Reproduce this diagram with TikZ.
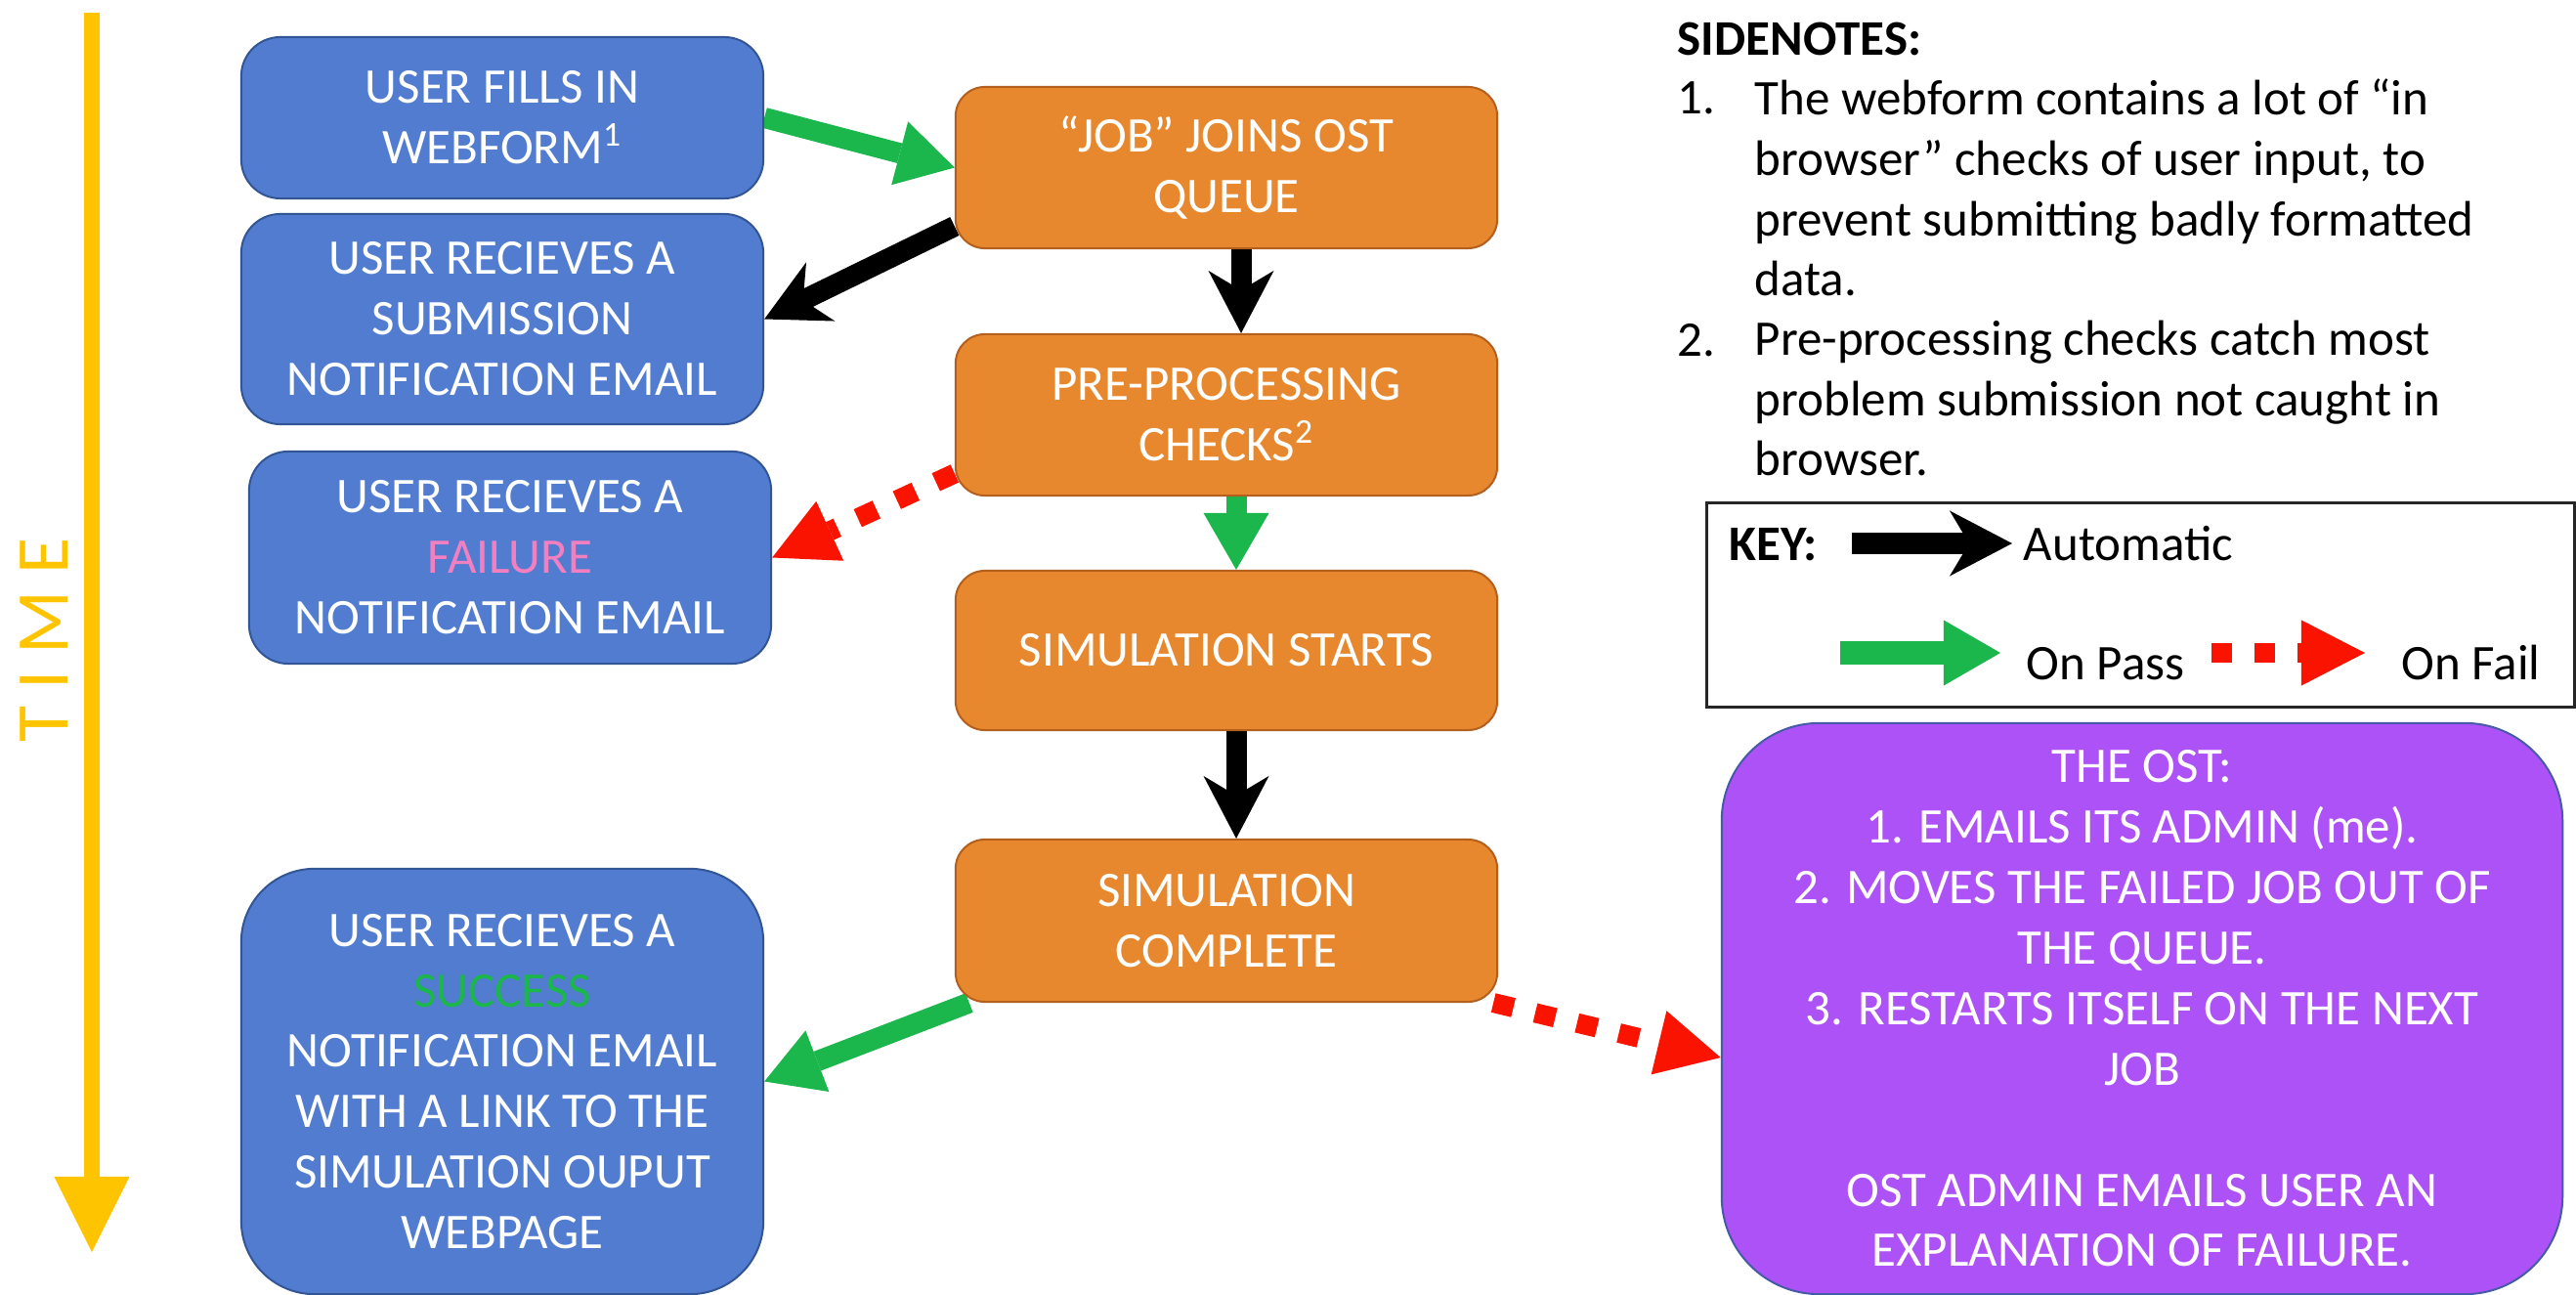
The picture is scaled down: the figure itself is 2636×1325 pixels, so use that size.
\documentclass[tikz,border=0pt]{standalone}
\usepackage{fontspec}
\setmainfont{Carlito}
\usetikzlibrary{arrows.meta,backgrounds}
\definecolor{boxblue}{RGB}{82,124,208}
\definecolor{boxblueline}{RGB}{50,85,150}
\definecolor{boxorange}{RGB}{232,136,46}
\definecolor{boxorangeline}{RGB}{180,95,30}
\definecolor{boxpurple}{RGB}{172,82,246}
\definecolor{boxpurpleline}{RGB}{70,90,170}
\definecolor{passgreen}{RGB}{27,182,76}
\definecolor{failred}{RGB}{250,20,0}
\definecolor{timegold}{RGB}{255,196,0}
\definecolor{failpink}{RGB}{242,128,192}
\begin{document}
\begin{tikzpicture}[x=0.01cm, y=-0.01cm, font=\fontsize{14.5}{17.6}\selectfont,
		userbox/.style={draw=boxblueline, line width=0.02cm, fill=boxblue, text=white, rounded corners=0.4cm, minimum width=5.34cm, align=center, inner sep=0pt},
		ostbox/.style={draw=boxorangeline, line width=0.02cm, fill=boxorange, text=white, rounded corners=0.3cm, minimum width=5.54cm, minimum height=1.65cm, align=center, inner sep=0pt},
		plain/.style={anchor=base west, inner sep=0pt},
		autoarrow/.style={black, line width=0.21cm, -{Stealth[width=0.67cm, length=0.64cm, inset=0.2cm, line width=0pt]}},
		passarrow/.style={passgreen, line width=0.21cm, -{Triangle[width=0.67cm, length=0.58cm, line width=0pt]}},
		failarrow/.style={failred, line width=0.2cm, dash pattern=on 0.21cm off 0.23cm, -{Triangle[width=0.67cm, length=0.65cm, line width=0pt]}}]
		\useasboundingbox (0,0) rectangle (2636,1325);
		
		\coordinate (timetop) at (94,13);
		\coordinate (timebot) at (94,1281);
		\draw[timegold, line width=0.16cm, -{Triangle[width=0.77cm, length=0.77cm, line width=0pt]}] (timetop) -- (timebot);
		\node[rotate=90, anchor=base, text=timegold, font=\fontsize{21.6}{26}\selectfont] (timelabel) at (70,655) {T I M E};
		
		\node[userbox, minimum height=1.65cm] (webform) at (514,120.5) {USER FILLS IN\\WEBFORM\textsuperscript{1}};
		\node[userbox, minimum height=2.15cm] (submitmail) at (514,326.5) {USER RECIEVES A\\SUBMISSION\\NOTIFICATION EMAIL};
		\node[userbox, minimum height=2.17cm] (failmail) at (522,570.5) {USER RECIEVES A\\\textcolor{failpink}{FAILURE}\\NOTIFICATION EMAIL};
		\node[userbox, minimum height=4.35cm, rounded corners=0.75cm] (successmail) at (514,1106.5) {USER RECIEVES A\\\textcolor{passgreen}{SUCCESS}\\NOTIFICATION EMAIL\\WITH A LINK TO THE\\SIMULATION OUPUT\\WEBPAGE};
		
		\node[ostbox] (queue) at (1255,171.5) {“JOB” JOINS OST\\QUEUE};
		\node[ostbox] (checks) at (1255,424.5) {PRE-PROCESSING\\CHECKS\textsuperscript{2}};
		\node[ostbox, minimum height=1.63cm] (simstart) at (1255,665.5) {SIMULATION STARTS};
		\node[ostbox, minimum height=1.66cm] (simdone) at (1255,942) {SIMULATION\\COMPLETE};
		
		\node[draw=boxpurpleline, line width=0.02cm, fill=boxpurple, text=white, rounded corners=1cm, minimum width=8.6cm, minimum height=5.84cm, align=center, inner sep=0pt] (ostfail) at (2192,1032) {THE OST:\\1. EMAILS ITS ADMIN (me).\\2. MOVES THE FAILED JOB OUT OF\\THE QUEUE.\\3. RESTARTS ITSELF ON THE NEXT\\JOB\\[0.62cm]OST ADMIN EMAILS USER AN\\EXPLANATION OF FAILURE.};
		
		\begin{scope}[on background layer]
			\draw[passarrow] (webform.east) -- (queue.west);
			\draw[autoarrow] ([yshift=-0.6cm]queue.west) -- (submitmail.east);
			\draw[autoarrow] ([xshift=0.15cm]queue.south) -- ([xshift=0.15cm]checks.north);
			\draw[failarrow] ([yshift=-0.6cm]checks.west) -- (failmail.east);
			\draw[passarrow] ([xshift=0.1cm]checks.south) -- ([xshift=0.1cm]simstart.north);
			\draw[autoarrow] ([xshift=0.1cm]simstart.south) -- ([xshift=0.1cm]simdone.north);
			\draw[passarrow] ([xshift=0.15cm]simdone.south west) -- (successmail.east);
			\draw[failarrow] ([xshift=-0.05cm]simdone.south east) -- ([yshift=-0.5cm]ostfail.west);
		\end{scope}
		
		\node[plain] (sidetitle) at (1716,57) {\textbf{SIDENOTES:}};
		\node[plain] (num1) at (1716,117) {1.};
		\node[plain, align=left] (note1) at (1795,303) {The webform contains a lot of “in\\browser” checks of user input, to\\prevent submitting badly formatted\\data.};
		\node[plain] (num2) at (1716,365) {2.};
		\node[plain, align=left] (note2) at (1795,487) {Pre-processing checks catch most\\problem submission not caught in\\browser.};
		
		\node[draw=black!85, line width=0.03cm, minimum width=8.87cm, minimum height=2.08cm, inner sep=0pt] (keybox) at (2190.5,619) {};
		\node[plain] (keylabel) at (1769,574) {\textbf{KEY:}};
		\coordinate (autostart) at (1895,556);
		\coordinate (autoend) at (2059,556);
		\draw[autoarrow] (autostart) -- (autoend);
		\node[plain] (autolabel) at (2070,574) {Automatic};
		\coordinate (passstart) at (1883,668);
		\coordinate (passend) at (2047,668);
		\draw[passarrow, line width=0.23cm] (passstart) -- (passend);
		\node[plain] (passlabel) at (2073,696) {On Pass};
		\coordinate (failstart) at (2263,668);
		\coordinate (failend) at (2420,668);
		\draw[failarrow] (failstart) -- (failend);
		\node[plain] (faillabel) at (2457,696) {On Fail};
	\end{tikzpicture}
\end{document}
